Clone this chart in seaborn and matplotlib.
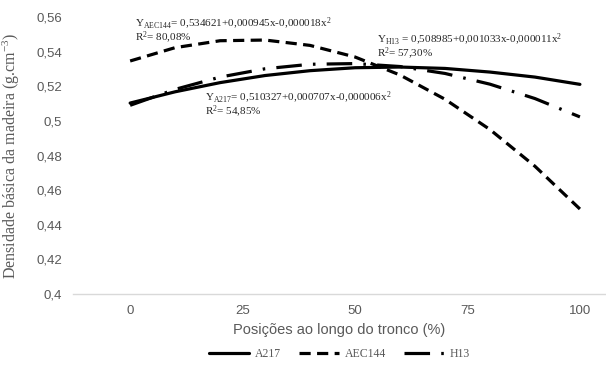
import numpy as np
import pandas as pd
import matplotlib
matplotlib.use("Agg")
import matplotlib.pyplot as plt
import seaborn as sns

# values at every 10 % of the trunk height
positions = [0, 10, 20, 30, 40, 50, 60, 70, 80, 90, 100]
a217 = [0.5103, 0.5168, 0.5221, 0.5262, 0.5290, 0.5307, 0.5311, 0.5303, 0.5282, 0.5253, 0.5211]
aec144 = [0.5346, 0.5423, 0.5463, 0.5467, 0.5436, 0.5369, 0.5265, 0.5125, 0.4950, 0.4738, 0.4491]
h13 = [0.5090, 0.5182, 0.5253, 0.5301, 0.5327, 0.5331, 0.5314, 0.5274, 0.5212, 0.5129, 0.5023]
xticks = [0, 25, 50, 75, 100]
yticks = [0.40, 0.42, 0.44, 0.46, 0.48, 0.50, 0.52, 0.54, 0.56]
ytick_labels = ["0,4", "0,42", "0,44", "0,46", "0,48", "0,5", "0,52", "0,54", "0,56"]

sns.set_theme(style="white")
plt.rcParams["font.family"] = ["Liberation Sans", "DejaVu Sans"]
plt.rcParams["mathtext.fontset"] = "custom"
plt.rcParams["mathtext.rm"] = "Liberation Serif"
plt.rcParams["mathtext.it"] = "Liberation Serif:italic"

grey = "#595959"
fig = plt.figure(figsize=(6.06, 3.65), dpi=100)
ax = fig.add_axes([0.1205, 0.1945, 0.8795, 0.7589])

df = pd.DataFrame({"x": positions, "A217": a217, "AEC144": aec144, "H13": h13})
styles = {
    "A217": dict(linestyle="-"),
    "AEC144": dict(dashes=(3.5, 2.0)),
    "H13": dict(dashes=(8.0, 3.5, 0.8, 3.5)),
}
for name in ["A217", "AEC144", "H13"]:
    sns.lineplot(data=df, x="x", y=name, ax=ax, color="black", lw=2.3,
                 label=name, legend=False, **styles[name])

ax.set_xlim(-12.7, 105.8)
ax.set_ylim(0.4, 0.56)
ax.set_xticks(xticks)
ax.set_xticklabels([str(t) for t in xticks])
ax.set_yticks(yticks)
ax.set_yticklabels(ytick_labels)
ax.tick_params(axis="both", length=0, labelsize=9.5, colors=grey, pad=8)
for side in ["top", "right", "left"]:
    ax.spines[side].set_visible(False)
ax.spines["bottom"].set_color("#d9d9d9")
ax.spines["bottom"].set_linewidth(1.0)

ax.set_xlabel("Posições ao longo do tronco (%)", fontsize=10.5, color=grey, labelpad=4)
ax.set_ylabel("Densidade básica da madeira (g.cm$^{-3}$)", fontsize=11.5, color=grey,
              family="Liberation Serif", labelpad=10)

# equations: one two-line text each
tkw = dict(fontsize=8, color="#262626", family="Liberation Serif", transform=fig.transFigure,
           va="top", linespacing=0.85)
fig.text(135 / 606, 1 - 16 / 365,
         "Y$_{\\mathrm{AEC144}}$= 0,534621+0,000945x-0,000018x$^{2}$\nR$^{2}$= 80,08%", **tkw)
fig.text(205 / 606, 1 - 90 / 365,
         "Y$_{\\mathrm{A217}}$= 0,510327+0,000707x-0,000006x$^{2}$\nR$^{2}$= 54,85%", **tkw)
fig.text(377 / 606, 1 - 32 / 365,
         "Y$_{\\mathrm{H13}}$ = 0,508985+0,001033x-0,000011x$^{2}$\nR$^{2}$= 57,30%", **tkw)

handles, labels = ax.get_legend_handles_labels()
leg = fig.legend(handles, labels, loc="lower center", bbox_to_anchor=(0.56, -0.015), ncol=3,
                 frameon=False, handlelength=3.4, columnspacing=1.5, handletextpad=0.5,
                 prop={"family": "Liberation Serif", "size": 8.5})
for t in leg.get_texts():
    t.set_color(grey)

fig.savefig("out.png", dpi=100)
